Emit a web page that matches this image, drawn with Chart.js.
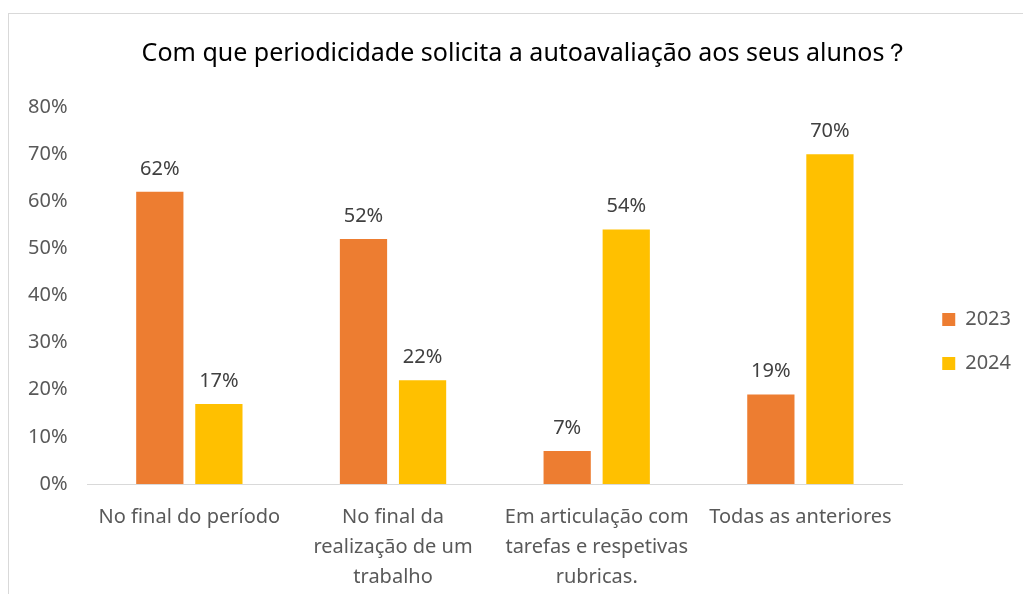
<!DOCTYPE html>
<html>
<head>
<meta charset="utf-8">
<script src="https://cdn.jsdelivr.net/npm/chart.js@4.4.0/dist/chart.umd.min.js"></script>
<style>
  body { margin: 0; background: #fff; overflow: hidden; }
  #box { position: absolute; left: 8px; top: 13px; width: 1028px; height: 591px; border: 1px solid #d9d9d9; box-sizing: border-box; }
  canvas { display: block; }
</style>
</head>
<body>
<div id="box"><canvas id="chart" width="1026" height="589"></canvas></div>
<script>
// chart data
const categories = [
  'No final do período',
  ['No final da', 'realização de um', 'trabalho'],
  ['Em articulação com', 'tarefas e respetivas', 'rubricas.'],
  'Todas as anteriores'
];
const values2023 = [62, 52, 7, 19];
const values2024 = [17, 22, 54, 70];
const yTicks = [0, 10, 20, 30, 40, 50, 60, 70, 80];

const FONT = "'Noto Sans', 'Open Sans', sans-serif";

// draws the % labels above each bar
const barLabels = {
  id: 'barLabels',
  afterDatasetsDraw(chart) {
    const ctx = chart.ctx;
    ctx.save();
    ctx.font = '20px ' + FONT;
    ctx.fillStyle = '#404040';
    ctx.textAlign = 'center';
    ctx.textBaseline = 'middle';
    chart.data.datasets.forEach((ds, i) => {
      chart.getDatasetMeta(i).data.forEach((bar, j) => {
        ctx.fillText(ds.data[j] + '%', bar.x, bar.y - 23);
      });
    });
    ctx.restore();
  }
};

// nudge title and legend to where Excel put them
const nudge = {
  id: 'nudge',
  afterLayout(chart) {
    const t = chart.titleBlock;
    t.left += 11; t.right += 11;
    const l = chart.legend;
    l.top += 28; l.bottom += 28;
  }
};

const ctx = document.getElementById('chart').getContext('2d');
const chart = new Chart(ctx, {
  type: 'bar',
  data: {
    labels: categories,
    datasets: [
      { label: '2023', data: values2023, backgroundColor: '#ed7d31' },
      { label: '2024', data: values2024, backgroundColor: '#ffc000' }
    ]
  },
  options: {
    responsive: false,
    animation: false,
    categoryPercentage: 0.58,
    barPercentage: 0.8,
    layout: { padding: { left: -1, right: 14, top: 10, bottom: 0 } },
    plugins: {
      title: {
        display: true,
        text: 'Com que periodicidade solicita a autoavaliação aos seus alunos？',
        color: '#000',
        font: { family: FONT, size: 25, weight: 'normal' },
        padding: { top: 15, bottom: 38 }
      },
      legend: {
        position: 'right',
        labels: {
          color: '#595959',
          font: { family: FONT, size: 20 },
          boxWidth: 13,
          boxHeight: 13,
          padding: 24
        }
      },
      tooltip: { enabled: false }
    },
    scales: {
      x: {
        grid: { display: false, drawTicks: false },
        border: { color: '#d9d9d9', width: 1 },
        afterFit: s => { s.height -= 7; },
        ticks: {
          color: '#595959',
          font: { family: FONT, size: 20, lineHeight: 1.5 },
          padding: 18,
          maxRotation: 0,
          autoSkip: false
        }
      },
      y: {
        min: 0,
        max: 80,
        afterBuildTicks: axis => { axis.ticks = yTicks.map(v => ({ value: v })); },
        grid: { display: false, drawTicks: false },
        border: { display: false },
        ticks: {
          color: '#595959',
          font: { family: FONT, size: 20 },
          padding: 20,
          callback: v => v + '%'
        }
      },
      // empty spacer between plot and legend
      gap: {
        type: 'linear',
        position: 'right',
        grid: { display: false, drawTicks: false },
        border: { display: false },
        ticks: { display: false },
        afterFit: s => { s.width = 16; }
      }
    }
  },
  plugins: [barLabels, nudge]
});
</script>
</body>
</html>
